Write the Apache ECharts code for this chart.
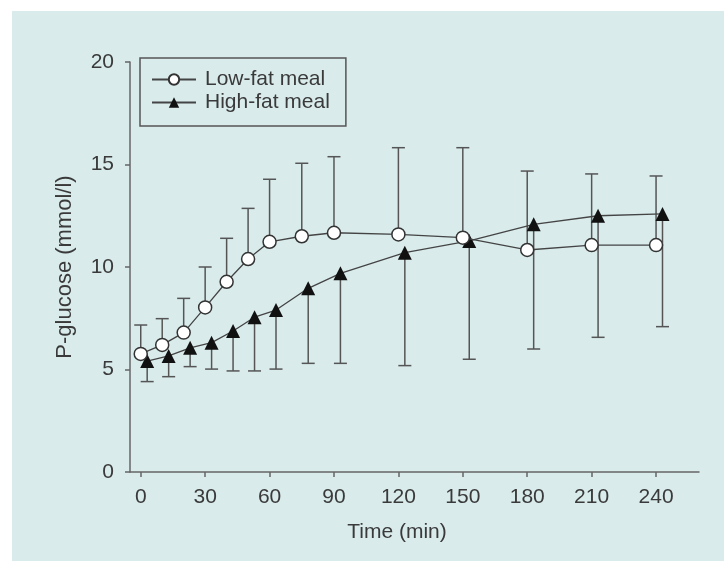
<!DOCTYPE html>
<html>
<head>
<meta charset="utf-8">
<script src="https://cdn.jsdelivr.net/npm/echarts@6/dist/echarts.min.js"></script>
<style>
  html, body { margin: 0; padding: 0; background: #fff; }
  #chart { width: 724px; height: 561px; }
</style>
</head>
<body>
<div id="chart"></div>
<script>
// values (mmol/l)
const lowFatTime = [0, 10, 20, 30, 40, 50, 60, 75, 90, 120, 150, 180, 210, 240]
const lowFatMean = [5.76, 6.2, 6.8, 8.03, 9.28, 10.39, 11.23, 11.5, 11.67, 11.59, 11.43, 10.83, 11.07, 11.07]
const lowFatUpper = [7.17, 7.48, 8.47, 10.0, 11.4, 12.86, 14.28, 15.06, 15.38, 15.82, 15.82, 14.68, 14.54, 14.44]

const highFatTime = [3, 13, 23, 33, 43, 53, 63, 78, 93, 123, 153, 183, 213, 243]
const highFatMean = [5.41, 5.66, 6.06, 6.31, 6.88, 7.55, 7.9, 8.96, 9.69, 10.7, 11.27, 12.08, 12.5, 12.59]
const highFatLower = [4.41, 4.65, 5.14, 5.02, 4.93, 4.93, 5.02, 5.3, 5.3, 5.19, 5.5, 6.0, 6.57, 7.09]

const timeTicks = [0, 30, 60, 90, 120, 150, 180, 210, 240]

const font = '"Liberation Sans", Arial, sans-serif'
const ink = '#3a3a3a'
const fs = 21

let myChart = echarts.init(document.getElementById('chart'), null, { renderer: 'canvas' })

function errorBar (color) {
    return function (params, api) {
        let x = api.value(0)
        let p1 = api.coord([x, api.value(1)])
        let p2 = api.coord([x, api.value(2)])
        let hw = 6.5
        return {
            type: 'group',
            children: [
                { type: 'line', shape: { x1: p1[0], y1: p1[1], x2: p2[0], y2: p2[1] }, style: { stroke: color, lineWidth: 1.5 } },
                { type: 'line', shape: { x1: p2[0] - hw, y1: p2[1], x2: p2[0] + hw, y2: p2[1] }, style: { stroke: color, lineWidth: 1.5 } }
            ]
        }
    }
}

let option = {
    backgroundColor: '#fff',
    animation: false,
    graphic: [{
        type: 'rect', left: 12, top: 11, z: -10, silent: true,
        shape: { width: 712, height: 550 },
        style: { fill: '#d9ebeb' }
    }],
    legend: {
        data: ['Low-fat meal', 'High-fat meal'],
        orient: 'vertical',
        left: 140,
        top: 58,
        padding: [11, 16, 13, 11],
        itemGap: 2,
        itemWidth: 44,
        itemHeight: 13,
        borderColor: '#555',
        borderWidth: 1.5,
        textStyle: { fontFamily: font, fontSize: fs, color: ink, padding: [0, 0, 0, 4] }
    },
    grid: { left: 130, top: 62, right: 25, bottom: 89, containLabel: false },
    xAxis: {
        type: 'value',
        min: -5,
        max: 260,
        name: 'Time (min)',
        nameLocation: 'middle',
        nameGap: 50,
        nameTextStyle: { fontFamily: font, fontSize: fs, color: ink, padding: [0, 35, 0, 0] },
        splitLine: { show: false },
        axisLine: { show: true, onZero: false, lineStyle: { color: '#666', width: 1.5 } },
        axisTick: { show: true, length: 5, lineStyle: { color: '#666', width: 1.5 }, customValues: timeTicks },
        axisLabel: { customValues: timeTicks, fontFamily: font, fontSize: fs, color: ink, margin: 15 }
    },
    yAxis: {
        type: 'value',
        min: 0,
        max: 20,
        interval: 5,
        name: 'P-glucose (mmol/l)',
        nameLocation: 'middle',
        nameGap: 54,
        nameTextStyle: { fontFamily: font, fontSize: 22, color: ink },
        splitLine: { show: false },
        axisLine: { show: true, onZero: false, lineStyle: { color: '#666', width: 1.5 } },
        axisTick: { show: true, length: 5, lineStyle: { color: '#666', width: 1.5 } },
        axisLabel: { fontFamily: font, fontSize: fs, color: ink, margin: 16 }
    },
    series: [
        {
            name: 'lowErr',
            type: 'custom',
            renderItem: errorBar('#555'),
            data: lowFatTime.map((t, i) => [t, lowFatMean[i], lowFatUpper[i]]),
            z: 1
        },
        {
            name: 'highErr',
            type: 'custom',
            renderItem: errorBar('#555'),
            data: highFatTime.map((t, i) => [t, highFatMean[i], highFatLower[i]]),
            z: 1
        },
        {
            name: 'High-fat meal',
            type: 'line',
            data: highFatTime.map((t, i) => [t, highFatMean[i]]),
            symbol: 'triangle',
            symbolSize: 14,
            itemStyle: { color: '#111', borderColor: '#111', borderWidth: 0 },
            lineStyle: { color: '#444', width: 1.3 },
            z: 3
        },
        {
            name: 'Low-fat meal',
            type: 'line',
            data: lowFatTime.map((t, i) => [t, lowFatMean[i]]),
            symbol: 'circle',
            symbolSize: 13,
            itemStyle: { color: '#fff', borderColor: '#333', borderWidth: 1.5 },
            lineStyle: { color: '#444', width: 1.3 },
            z: 4
        }
    ]
}

myChart.setOption(option)
</script>
</body>
</html>
